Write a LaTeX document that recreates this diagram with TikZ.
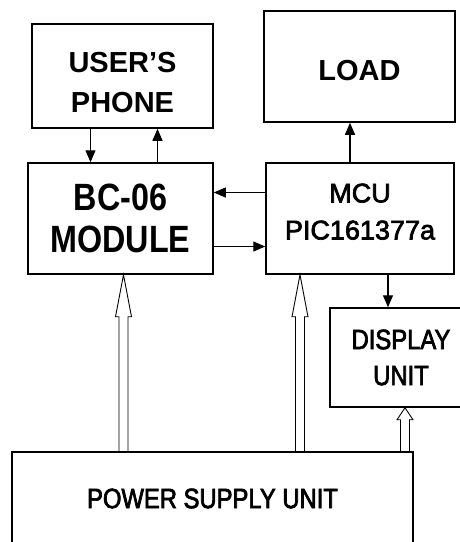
\documentclass[tikz,border=0pt]{standalone}
\usepackage{fontspec}
\setmainfont{Liberation Sans}
\newfontfamily\narrowsans[FakeStretch=0.85]{Liberation Sans}
\newfontfamily\mediumsans[FakeStretch=0.85, FakeBold=2.5]{Liberation Sans}
\newfontfamily\mediumwide[FakeBold=2.5]{Liberation Sans}
\usetikzlibrary{arrows.meta, calc}
\tikzset{
  block/.style={draw, line width=1.5pt, inner sep=0pt, align=center},
  link/.style={->, line width=1.1pt},
  hollow/.style={line width=0.9pt, to path={let \p1=(\tikztostart), \p2=(\tikztotarget) in
    (\x1-4.5pt,\y1) -- (\x1-4.5pt,\y2-#1) -- (\x1-8pt,\y2-#1) -- (\x1,\y2)
    -- (\x1+8pt,\y2-#1) -- (\x1+4.5pt,\y2-#1) -- (\x1+4.5pt,\y1)}}
}

\begin{document}
\begin{tikzpicture}[x=1pt, y=-1pt, >={Triangle[length=12pt,width=10pt]}]
    \useasboundingbox (0,0) rectangle (460,542);
    % Blocks
    \node[block, minimum width=181pt, minimum height=104pt, text height=72pt, text depth=0pt,
      font=\bfseries\fontsize{29}{40}\selectfont] (phone) at (122.5,76) {USER'S\\PHONE};
    \node[block, minimum width=191pt, minimum height=111pt, text height=27pt, text depth=0pt,
      font=\bfseries\fontsize{29}{40}\selectfont] (load) at (359.5,66.5) {LOAD};
    \node[block, minimum width=185pt, minimum height=111pt,
      font=\narrowsans\bfseries\fontsize{38}{42}\selectfont] (module) at (120.5,218.5) {BC-06\\MODULE};
    \node[block, minimum width=188pt, minimum height=111pt, text depth=14pt,
      font=\mediumwide\fontsize{27}{37}\selectfont] (mcu) at (360,218.5) {MCU\\PIC161377a};
    \node[block, minimum width=142pt, minimum height=99pt,
      font=\mediumsans\fontsize{28}{36}\selectfont] (display) at (401,357.5) {DISPLAY\\UNIT};
    \node[block, minimum width=401pt, minimum height=93pt,
      font=\mediumsans\fontsize{28}{34}\selectfont] (psu) at (212.5,498.5) {POWER SUPPLY UNIT};
    % Signal links
    \draw[link] ([xshift=-32pt]phone.south) -- ([xshift=-32pt]phone.south |- module.north);
    \draw[link] ([xshift=35pt]phone.south |- module.north) -- ([xshift=35pt]phone.south);
    \draw[link] ([yshift=26pt]mcu.west) -- ([yshift=26pt]mcu.west -| module.east);
    \draw[link] ([yshift=-28pt]module.east) -- ([yshift=-28pt]module.east -| mcu.west);
    \draw[link] ([xshift=-10pt]mcu.north) -- ([xshift=-10pt]mcu.north |- load.south);
    \draw[link] ([xshift=28pt]mcu.south) -- ([xshift=28pt]mcu.south |- display.north);
    % Power feeds
    \draw[hollow=42pt] ([xshift=3pt]module.south |- psu.north) to ([xshift=3pt]module.south);
    \draw[hollow=42pt] ([xshift=-60pt]mcu.south |- psu.north) to ([xshift=-60pt]mcu.south);
    \draw[hollow=12pt] ([xshift=4pt]display.south |- psu.north) to ([xshift=4pt]display.south);
\end{tikzpicture}
\end{document}
